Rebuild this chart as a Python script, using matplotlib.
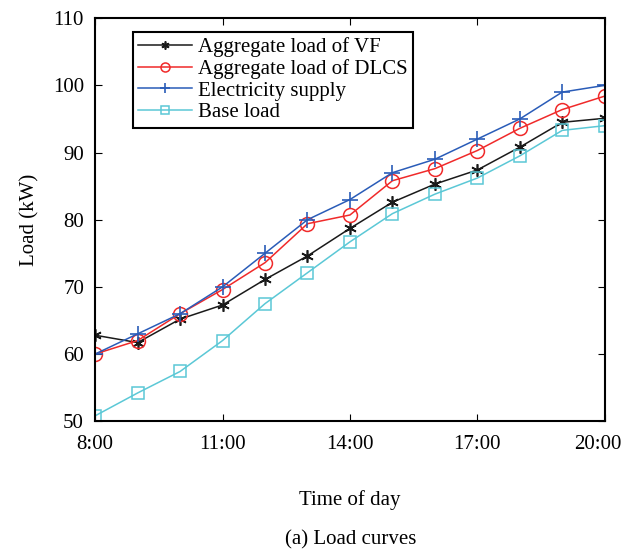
import matplotlib
matplotlib.use("Agg")
from matplotlib import pyplot, transforms

# data
hours = [8, 9, 10, 11, 12, 13, 14, 15, 16, 17, 18, 19, 20]
tick_hours = [8, 11, 14, 17, 20]
tick_labels = ["8:00", "11:00", "14:00", "17:00", "20:00"]
vf_load = [62.8, 61.7, 65.2, 67.3, 71.1, 74.6, 78.7, 82.6, 85.3, 87.4, 90.8, 94.5, 95.1]
dlcs_load = [60.0, 62.0, 66.0, 69.6, 73.6, 79.4, 80.7, 85.8, 87.6, 90.3, 93.6, 96.4, 98.4]
supply = [60.0, 63.0, 66.0, 70.0, 75.0, 80.0, 83.0, 87.0, 89.0, 92.0, 95.0, 99.0, 100.0]
base_load = [50.8, 54.2, 57.4, 62.0, 67.5, 72.1, 76.7, 80.9, 83.8, 86.2, 89.5, 93.3, 94.0]

pyplot.rcParams["font.family"] = ["Liberation Serif", "DejaVu Serif"]
pyplot.rcParams["font.size"] = 15

figure = pyplot.figure(figsize=(6.26, 5.52), dpi=100)
axis = figure.add_axes([0.152, 0.237, 0.814, 0.730])

asterisk = (6, 2, 0)
axis.plot(hours, vf_load, color="#1a1a1a", marker=asterisk, markersize=9, lw=1.1,
          markeredgewidth=1.2, label="Aggregate load of VF")
axis.plot(hours, dlcs_load, color="#f02a2a", marker="o", markersize=10, lw=1.1,
          markerfacecolor="none", markeredgewidth=1.1, label="Aggregate load of DLCS")
axis.plot(hours, supply, color="#2a5cb8", marker="+", markersize=11, lw=1.1,
          markeredgewidth=1.2, label="Electricity supply")
axis.plot(hours, base_load, color="#5bc8d6", marker="s", markersize=8, lw=1.1,
          markerfacecolor="none", markeredgewidth=1.1, label="Base load")

axis.set_xlim(8, 20)
axis.set_ylim(50, 110)
axis.set_xticks(tick_hours)
axis.set_xticklabels(tick_labels)
axis.set_yticks(range(50, 111, 10))
axis.tick_params(direction="in", top=True, right=True, length=5, labelsize=15)
axis.tick_params(axis="x", pad=10)
axis.tick_params(axis="y", pad=8)
for spine in axis.spines.values():
    spine.set_linewidth(1.5)

# nudge the last hour label in so it stays on the canvas
last = axis.get_xticklabels()[-1]
last.set_transform(last.get_transform() +
                   transforms.ScaledTranslation(-0.07, 0, figure.dpi_scale_trans))

axis.set_xlabel("Time of day", labelpad=26)
axis.set_ylabel("Load (kW)", labelpad=10)

legend = axis.legend(loc="upper left", bbox_to_anchor=(0.074, 0.966), fancybox=False,
                     edgecolor="black", handlelength=2.6, borderpad=0.25,
                     labelspacing=0.1, handletextpad=0.3, borderaxespad=0,
                     fontsize=15, markerscale=0.65, framealpha=1)
legend.get_frame().set_linewidth(1.5)

figure.text(0.56, 0.014, "(a) Load curves", ha="center", fontsize=15)

pyplot.savefig("out.png", dpi=100)
